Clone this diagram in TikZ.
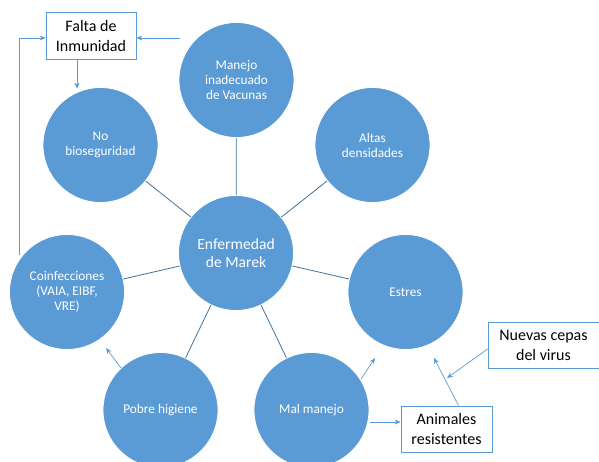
\documentclass[tikz,border=0pt]{standalone}
\usepackage{fontspec}
\setmainfont{Carlito}
\usetikzlibrary{arrows.meta}
\definecolor{cfill}{HTML}{5B9BD5}
\definecolor{cline}{HTML}{41719C}
\tikzset{
  bubble/.style={circle, fill=cfill, draw=white, line width=0.8pt, minimum size=115pt, inner sep=0pt, text=white, align=center, font=\fontsize{13.3}{15}\selectfont},
  spoke/.style={draw=cline, line width=0.8pt},
  note/.style={draw=cfill, line width=0.8pt, fill=white, align=center, font=\fontsize{16}{20}\selectfont, inner sep=0pt},
  flow/.style={draw=cfill, line width=0.7pt, -{Stealth[length=6pt,width=5pt]}}
}
\begin{document}
\begin{tikzpicture}[x=1pt,y=-1pt]
\useasboundingbox (0,0) rectangle (599,462);
\node[bubble, font=\fontsize{15.6}{18}\selectfont] (ctr) at (236,253) {Enfermedad\\de Marek};
\node[bubble] (vac) at (236.5,80) {Manejo\\inadecuado\\de Vacunas};
\node[bubble] (alt) at (372.5,145) {Altas\\densidades};
\node[bubble] (est) at (405.5,292) {Estres};
\node[bubble] (mal) at (311.5,410) {Mal manejo};
\node[bubble] (pob) at (160.5,410) {Pobre higiene};
\node[bubble] (coi) at (67,292) {Coinfecciones\\(VAIA, EIBF,\\VRE)};
\node[bubble] (nob) at (100.5,145) {No\\bioseguridad};
\foreach \n in {vac,alt,est,mal,pob,coi,nob} \draw[spoke] (ctr) -- (\n);

\node[note, minimum width=90pt, minimum height=46.5pt] (fal) at (91,36) {Falta de\\Inmunidad};
\node[note, minimum width=111pt, minimum height=46pt] (nue) at (543.5,345) {Nuevas cepas\\del virus};
\node[note, minimum width=91pt, minimum height=46pt] (ani) at (446.5,429) {Animales\\resistentes};

\coordinate (a1) at (180,38);
\draw[flow] (a1) -- (fal.east |- a1);
\draw[flow] ([xshift=-14pt]fal.south) -- ++(0,29);
\coordinate (a2) at (19,255);
\draw[flow] (a2) |- (fal.west |- a1);
\coordinate (a3) at (121,368);
\coordinate (a4) at (106,348);
\draw[flow] (a3) -- (a4);
\coordinate (a5) at (361,379);
\coordinate (a6) at (375,358);
\draw[flow] (a5) -- (a6);
\coordinate (a7) at (370,422);
\draw[flow] (a7) -- (ani.west |- a7);
\coordinate (a8) at (434,358);
\draw[flow] ([xshift=12pt]ani.north) -- (a8);
\coordinate (a9) at (447,378);
\draw[flow] (nue.west |- 0,349) -- (a9);
\end{tikzpicture}
\end{document}
